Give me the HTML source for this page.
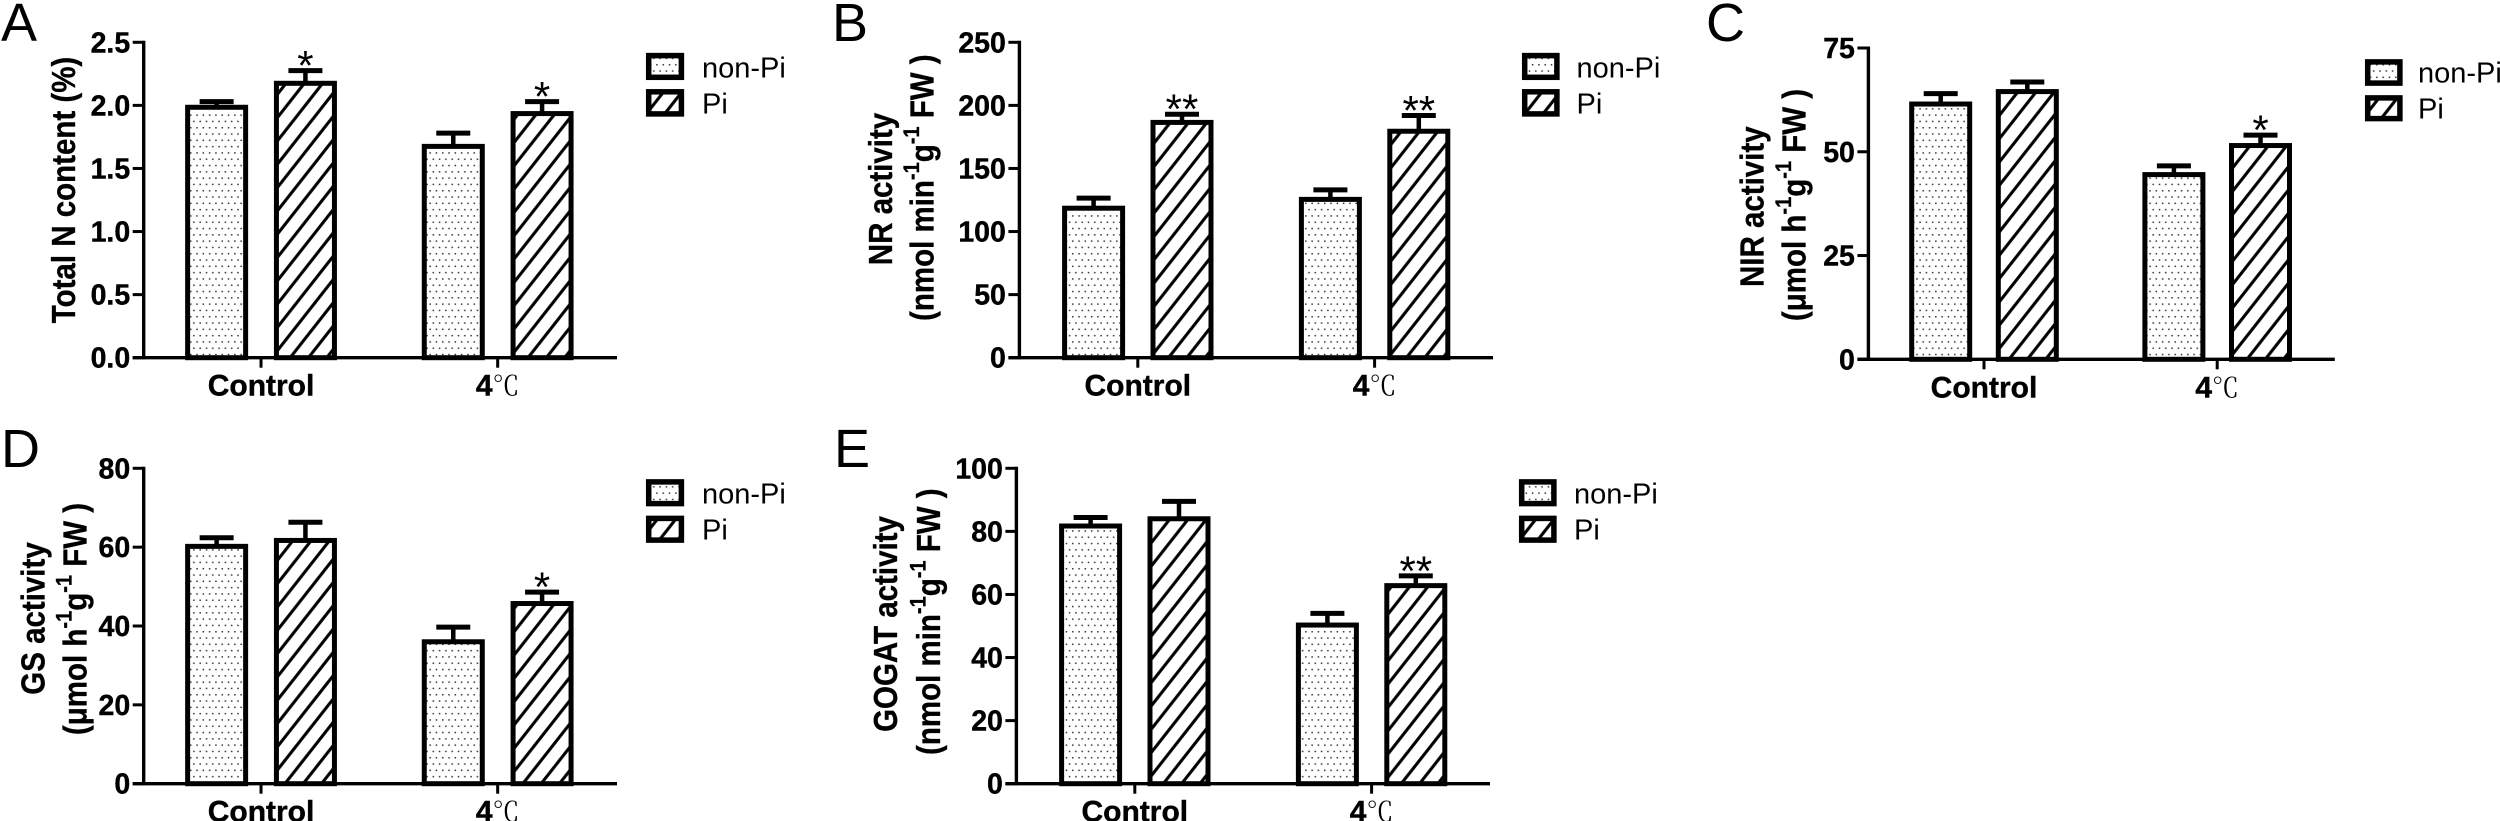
<!DOCTYPE html>
<html lang="en">
<head>
<meta charset="utf-8">
<title>Nitrogen metabolism bar charts</title>
<style>
html,body{margin:0;padding:0;background:#fff;width:2500px;height:821px;overflow:hidden}
svg{display:block}
text{font-family:"Liberation Sans","Noto Sans CJK SC",sans-serif;fill:#000}
.yt{font-size:29.5px;font-weight:bold;stroke:#000;stroke-width:.3px}
.sup{font-size:20px}
.lg{font-size:29px}
.pl{font-size:54px}
</style>
</head>
<body>
<svg id="figure" xmlns="http://www.w3.org/2000/svg" width="2500" height="821" viewBox="0 0 2500 821">
<defs>
<pattern id="dots" patternUnits="userSpaceOnUse" width="6.3" height="12.6">
<rect x="1" y="1" width="1.5" height="1.5" fill="#333"/>
<rect x="4.15" y="7.3" width="1.5" height="1.5" fill="#333"/>
</pattern>
<pattern id="hatch" patternUnits="userSpaceOnUse" width="18.3" height="23.3" patternTransform="translate(0,4.8)">
<path d="M-2,25.85 L20.3,-2.55 M-2,2.55 L2,-2.55 M16.3,25.85 L20.3,20.75" stroke="#000" stroke-width="3.1" fill="none"/>
</pattern>
</defs>

<text class="pl" x="1" y="41">A</text>
<text class="pl" x="832" y="41">B</text>
<text class="pl" x="1706" y="41">C</text>
<text class="pl" x="1" y="467">D</text>
<text class="pl" x="834" y="467">E</text>

<text class="yt" text-anchor="middle" transform="translate(75,190) rotate(-90) scale(1,1.12)">Total N content (%)</text>

<text class="yt" text-anchor="middle" transform="translate(892,189) rotate(-90) scale(1,1.12)">NR activity</text>
<text class="yt" text-anchor="middle" transform="translate(933.5,187.7) rotate(-90) scale(1,1.12)">(nmol min<tspan class="sup" dy="-13">-1</tspan><tspan dy="13">g</tspan><tspan class="sup" dy="-13">-1</tspan><tspan dy="13"> FW )</tspan></text>

<text class="yt" text-anchor="middle" transform="translate(1763.7,206.7) rotate(-90) scale(1,1.12)">NIR activity</text>
<text class="yt" text-anchor="middle" transform="translate(1805.5,205) rotate(-90) scale(1,1.12)">(μmol h<tspan class="sup" dy="-13">-1</tspan><tspan dy="13">g</tspan><tspan class="sup" dy="-13">-1</tspan><tspan dy="13"> FW )</tspan></text>

<text class="yt" text-anchor="middle" transform="translate(44.5,618.5) rotate(-90) scale(1,1.12)">GS activity</text>
<text class="yt" text-anchor="middle" transform="translate(86.3,619) rotate(-90) scale(1,1.12)">(μmol h<tspan class="sup" dy="-13">-1</tspan><tspan dy="13">g</tspan><tspan class="sup" dy="-13">-1</tspan><tspan dy="13"> FW )</tspan></text>

<text class="yt" text-anchor="middle" transform="translate(897,624) rotate(-90) scale(1,1.12)">GOGAT activity</text>
<text class="yt" text-anchor="middle" transform="translate(940,621.7) rotate(-90) scale(1,1.12)">(nmol min<tspan class="sup" dy="-13">-1</tspan><tspan dy="13">g</tspan><tspan class="sup" dy="-13">-1</tspan><tspan dy="13"> FW )</tspan></text>

<g>
<rect x="648.7" y="55.6" width="32.7" height="21.7" fill="url(#dots)" stroke="#000" stroke-width="5.5"/>
<text class="lg" x="702" y="77.3">non-Pi</text>
<rect x="648.7" y="91.8" width="32.7" height="22.1" fill="url(#hatch)" stroke="#000" stroke-width="5.5"/>
<text class="lg" x="702" y="113.5">Pi</text>
</g>
<g>
<rect x="1524.7" y="55.6" width="32.2" height="21.7" fill="url(#dots)" stroke="#000" stroke-width="5.5"/>
<text class="lg" x="1576.5" y="77.3">non-Pi</text>
<rect x="1524.7" y="91.8" width="32.2" height="22.1" fill="url(#hatch)" stroke="#000" stroke-width="5.5"/>
<text class="lg" x="1576.5" y="113.5">Pi</text>
</g>
<g>
<rect x="2367.7" y="61.9" width="32.2" height="21.2" fill="url(#dots)" stroke="#000" stroke-width="5.5"/>
<text class="lg" x="2418" y="82.7">non-Pi</text>
<rect x="2367.7" y="97.9" width="32.2" height="20.7" fill="url(#hatch)" stroke="#000" stroke-width="5.5"/>
<text class="lg" x="2418" y="118.5">Pi</text>
</g>
<g>
<rect x="648.7" y="481.9" width="32.7" height="21.7" fill="url(#dots)" stroke="#000" stroke-width="5.5"/>
<text class="lg" x="702" y="503.3">non-Pi</text>
<rect x="648.7" y="518.4" width="32.7" height="21.7" fill="url(#hatch)" stroke="#000" stroke-width="5.5"/>
<text class="lg" x="702" y="539.5">Pi</text>
</g>
<g>
<rect x="1521.7" y="481.9" width="32.2" height="21.7" fill="url(#dots)" stroke="#000" stroke-width="5.5"/>
<text class="lg" x="1574" y="503.3">non-Pi</text>
<rect x="1521.7" y="518.4" width="32.2" height="21.7" fill="url(#hatch)" stroke="#000" stroke-width="5.5"/>
<text class="lg" x="1574" y="539.5">Pi</text>
</g>
</svg>

<script>
// Shared categories
const categories = ['Control', '4℃'];

// Panel A: total N content
const aTickLabels = ['0.0', '0.5', '1.0', '1.5', '2.0', '2.5'];
const aNonPi = [1.985, 1.675];
const aPi = [2.175, 1.935];
const aNonPiErr = [0.045, 0.105];
const aPiErr = [0.1, 0.095];
const aNonPiStars = ['', ''];
const aPiStars = ['*', '*'];

// Panel B: NR activity
const bTickLabels = ['0', '50', '100', '150', '200', '250'];
const bNonPi = [118.5, 125.5];
const bPi = [186.5, 179.5];
const bNonPiErr = [8, 7.5];
const bPiErr = [6.5, 12.5];
const bNonPiStars = ['', ''];
const bPiStars = ['**', '**'];

// Panel C: NIR activity
const cTickLabels = ['0', '25', '50', '75'];
const cNonPi = [61.5, 44.5];
const cPi = [64.5, 51.5];
const cNonPiErr = [2.5, 2.1];
const cPiErr = [2.3, 2.5];
const cNonPiStars = ['', ''];
const cPiStars = ['', '*'];

// Panel D: GS activity
const dTickLabels = ['0', '20', '40', '60', '80'];
const dNonPi = [60.2, 36];
const dPi = [61.7, 45.7];
const dNonPiErr = [2.2, 3.7];
const dPiErr = [4.6, 2.9];
const dNonPiStars = ['', ''];
const dPiStars = ['', '*'];

// Panel E: GOGAT activity
const eTickLabels = ['0', '20', '40', '60', '80', '100'];
const eNonPi = [81.7, 50.3];
const ePi = [84, 62.8];
const eNonPiErr = [2.7, 3.7];
const ePiErr = [5.5, 3.1];
const eNonPiStars = ['', ''];
const ePiStars = ['', '**'];

const SVG_NS = 'http://www.w3.org/2000/svg';
const figure = document.getElementById('figure');

function make(tag, attrs, parent) {
  const node = document.createElementNS(SVG_NS, tag);
  for (const k in attrs) node.setAttribute(k, attrs[k]);
  parent.appendChild(node);
  return node;
}

function drawPanel(id, layout, tickLabels, nonPi, pi, nonPiErr, piErr, nonPiStars, piStars) {
  const g = make('g', {}, figure);
  
  

  const yMin = parseFloat(tickLabels[0]);
  const yMax = parseFloat(tickLabels[tickLabels.length - 1]);
  const yScale = v => layout.y0 - (v - yMin) / (yMax - yMin) * (layout.y0 - layout.yTop);
  const groupWidth = (layout.xEnd - layout.axisX) / categories.length;
  const xScale = i => layout.axisX + (i + 0.5) * groupWidth + (layout.shift || 0);

  const seriesList = [
    { key: 'non-pi', values: nonPi, errs: nonPiErr, stars: nonPiStars, fill: 'url(#dots)', side: -1 },
    { key: 'pi', values: pi, errs: piErr, stars: piStars, fill: 'url(#hatch)', side: 1 }
  ];

  seriesList.forEach(s => {
    s.values.forEach((v, i) => {
      const cx = xScale(i) + s.side * layout.offset;
      const top = yScale(v);
      const errTop = yScale(v + s.errs[i]);

      const stem = make('line', { x1: cx, x2: cx, y1: top, y2: errTop, stroke: '#000', 'stroke-width': 4.5 }, g);
      
      

      const cap = make('line', { x1: cx - 17, x2: cx + 17, y1: errTop, y2: errTop, stroke: '#000', 'stroke-width': 5 }, g);
      
      

      const base = make('rect', { x: cx - layout.barWidth / 2, y: top, width: layout.barWidth, height: yScale(yMin) - top, fill: '#fff' }, g);
      
      

      const bar = make('rect', { x: cx - layout.barWidth / 2, y: top, width: layout.barWidth, height: yScale(yMin) - top, fill: s.fill, stroke: '#000', 'stroke-width': 5 }, g);
      
      

      if (s.stars[i]) {
        const star = make('text', { 'text-anchor': 'middle', 'font-size': 42, x: cx, y: errTop + 9.5 }, g);
        star.textContent = s.stars[i];
        
        
      }
    });
  });

  const yAxis = make('line', { x1: layout.axisX, x2: layout.axisX, y1: layout.yTop - 1.5, y2: layout.y0 + 1.5, stroke: '#000', 'stroke-width': 3.4 }, g);
  
  

  const xAxis = make('line', { x1: layout.axisX - 11, x2: layout.xEnd, y1: layout.y0, y2: layout.y0, stroke: '#000', 'stroke-width': 3.4 }, g);
  
  

  tickLabels.forEach(label => {
    const ty = yScale(parseFloat(label));
    const tick = make('line', { x1: layout.axisX - 11, x2: layout.axisX, y1: ty, y2: ty, stroke: '#000', 'stroke-width': 3 }, g);
    
    

    const text = make('text', { 'text-anchor': 'end', 'font-size': 28.5, 'font-weight': 'bold', stroke: '#000', 'stroke-width': 0.4, x: layout.axisX - 13.5, y: ty + 10 }, g);
    text.textContent = label;
    
    
  });

  categories.forEach((name, i) => {
    const cx = xScale(i);
    const tick = make('line', { x1: cx, x2: cx, y1: layout.y0, y2: layout.y0 + 10, stroke: '#000', 'stroke-width': 3 }, g);
    
    

    const text = make('text', { 'text-anchor': 'middle', 'font-size': 30, 'font-weight': 'bold', x: cx, y: layout.y0 + 38 }, g);
    const degree = name.indexOf('℃');
    if (degree >= 0) {
      const num = make('tspan', { stroke: '#000', 'stroke-width': 0.4 }, text);
      num.textContent = name.slice(0, degree);
      const unit = make('tspan', { 'font-weight': 'normal', 'font-size': 27, style: 'font-family:"Noto Serif CJK SC",serif' }, text);
      unit.textContent = '℃';
    } else {
      text.setAttribute('stroke', '#000');
      text.setAttribute('stroke-width', '0.4');
      text.textContent = name;
    }
    
    
  });
}

drawPanel('a', { axisX: 143.7, xEnd: 617, yTop: 42.3, y0: 357.7, offset: 44.4, barWidth: 58, shift: -1 },
  aTickLabels, aNonPi, aPi, aNonPiErr, aPiErr, aNonPiStars, aPiStars);
drawPanel('b', { axisX: 1019.4, xEnd: 1493, yTop: 42.3, y0: 357.7, offset: 44.2, barWidth: 58 },
  bTickLabels, bNonPi, bPi, bNonPiErr, bPiErr, bNonPiStars, bPiStars);
drawPanel('c', { axisX: 1868.4, xEnd: 2334.8, yTop: 48, y0: 359.3, offset: 43.3, barWidth: 58, shift: -1 },
  cTickLabels, cNonPi, cPi, cNonPiErr, cPiErr, cNonPiStars, cPiStars);
drawPanel('d', { axisX: 143.7, xEnd: 617, yTop: 468.3, y0: 783.7, offset: 44.4, barWidth: 58, shift: -1 },
  dTickLabels, dNonPi, dPi, dNonPiErr, dPiErr, dNonPiStars, dPiStars);
drawPanel('e', { axisX: 1016.4, xEnd: 1490, yTop: 468.3, y0: 783.7, offset: 44.2, barWidth: 58 },
  eTickLabels, eNonPi, ePi, eNonPiErr, ePiErr, eNonPiStars, ePiStars);
</script>
</body>
</html>
